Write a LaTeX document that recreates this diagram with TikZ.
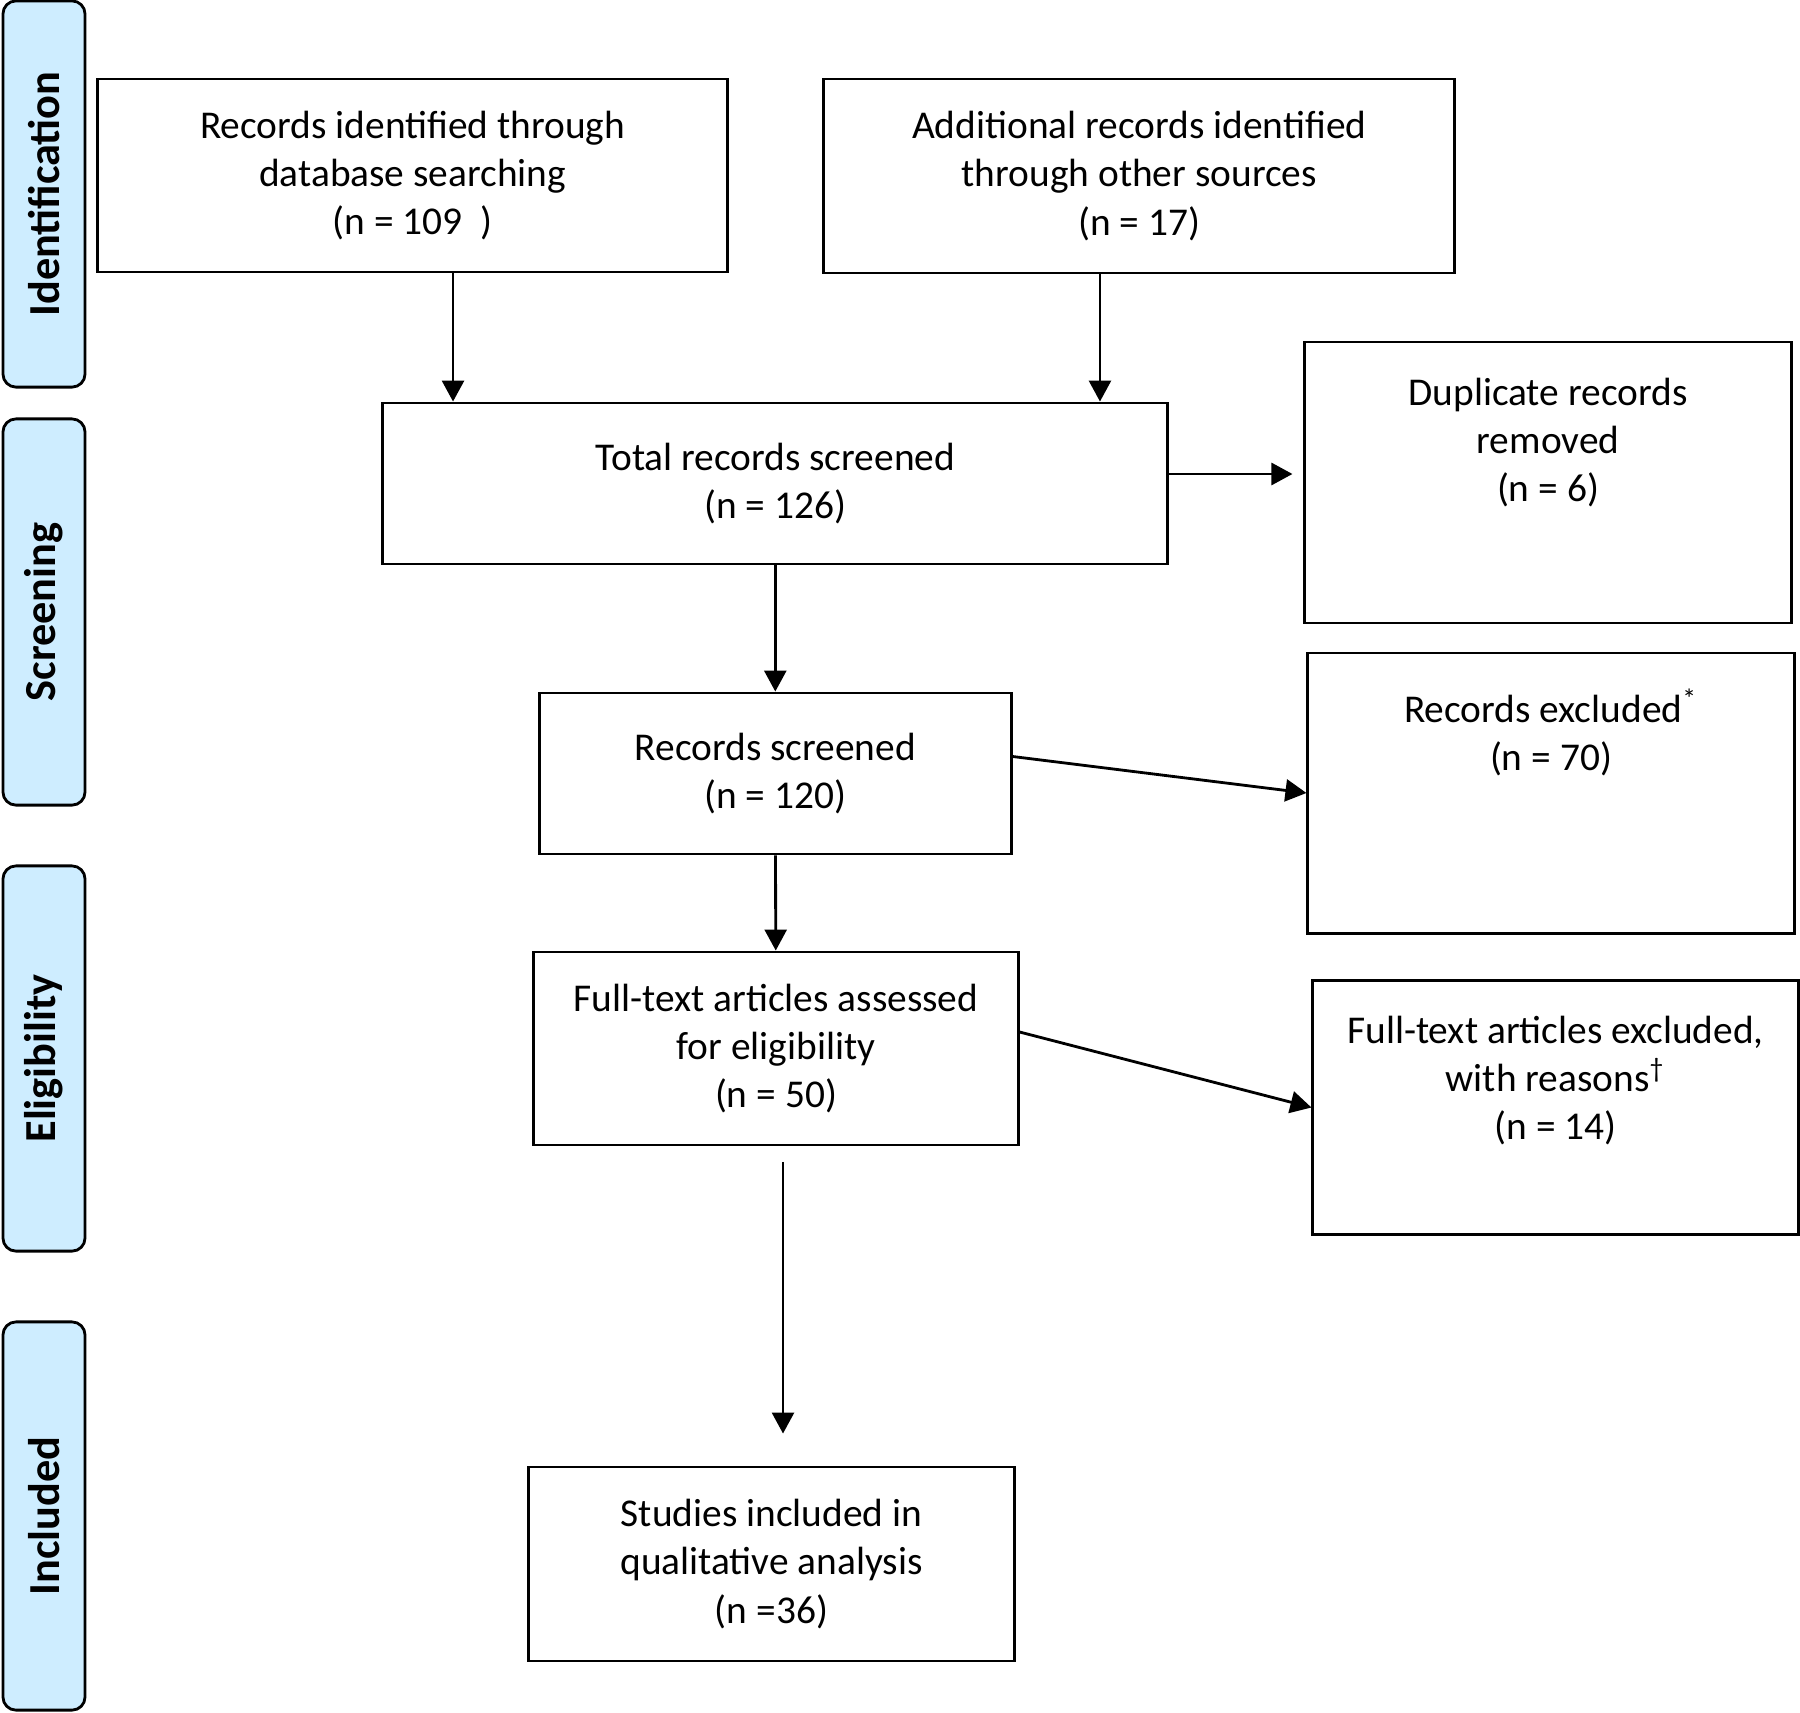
\documentclass[tikz,border=0pt]{standalone}
\usepackage{fontspec}
\setmainfont{Carlito}
\usetikzlibrary{arrows.meta}

\definecolor{stagefill}{RGB}{206,237,255}

\tikzset{
  box/.style={rectangle, draw, line width=0.8pt, inner sep=0pt, align=center,
    font=\fontsize{11.2}{13.7}\selectfont},
  toptext/.style={anchor=north, yshift=-0.24cm, align=center,
    font=\fontsize{11.2}{13.7}\selectfont},
  stage/.style={rectangle, draw, line width=0.8pt, rounded corners=0.13cm,
    fill=stagefill, minimum width=0.82cm, inner sep=0pt,
    font=\bfseries\fontsize{12.6}{15}\selectfont},
}

\begin{document}
\begin{tikzpicture}[x=0.01cm, y=-0.01cm, line width=0.8pt,
  >={Triangle[length=2.1mm, width=2.2mm]}]

\useasboundingbox (0,0) rectangle (1800,1712);

% stages on the left
\node (ident)[stage, minimum height=3.86cm] at (44, 194) {\rotatebox{90}{Identification}};
\node (screen)[stage, minimum height=3.86cm] at (44, 612) {\rotatebox{90}{Screening}};
\node (elig)[stage, minimum height=3.85cm] at (44, 1058.5) {\rotatebox{90}{Eligibility}};
\node (incl)[stage, minimum height=3.88cm] at (44, 1516) {\rotatebox{90}{Included}};

% main column
\node (rec1)[box, minimum width=6.30cm, minimum height=1.93cm] at (412.7, 175.5)
  {Records identified through\\database searching\\(n = 109\ \ )};
\node (rec2)[box, minimum width=6.305cm, minimum height=1.94cm] at (1139.3, 176)
  {Additional records identified\\through other sources\\(n = 17)};
\node (tot)[box, minimum width=7.845cm, minimum height=1.61cm] at (775.3, 483.5)
  {Total records screened\\(n = 126)};
\node (scr)[box, minimum width=4.715cm, minimum height=1.61cm] at (775.3, 773.5)
  {Records screened\\(n = 120)};
\node (ful)[box, minimum width=4.84cm, minimum height=1.93cm] at (776, 1048.5)
  {Full-text articles assessed\\for eligibility\\(n = 50)};
\node (inc)[box, minimum width=4.85cm, minimum height=1.94cm] at (771.5, 1564)
  {Studies included in\\qualitative analysis\\(n =36)};

% exclusions on the right
\node (dup)[box, minimum width=4.86cm, minimum height=2.81cm,
  label={[toptext]north:{Duplicate records\\removed\\(n = 6)}}] at (1548, 482.5) {};
\node (exc)[box, minimum width=4.86cm, minimum height=2.80cm,
  label={[toptext]north:{Records excluded\textsuperscript{*}\\(n = 70)}}] at (1551, 793) {};
\node (fex)[box, minimum width=4.85cm, minimum height=2.54cm,
  label={[toptext]north:{Full-text articles excluded,\\with reasons\textsuperscript{†}\\(n = 14)}}] at (1555.5, 1107.5) {};

\coordinate (c1) at ([xshift=0.403cm]rec1.south);
\coordinate (c2) at ([xshift=-0.393cm]rec2.south);
\coordinate (c3) at ([yshift=0.095cm]tot.east);
\coordinate (c4) at ([yshift=0.17cm]scr.east);
\coordinate (c5) at ([yshift=0.165cm]ful.east);
\coordinate (c6) at ([xshift=0.07cm, yshift=-0.155cm]ful.south);

\draw[->] (c1) -- (c1 |- tot.north);
\draw[->] (c2) -- (c2 |- tot.north);
\draw[->, shorten >=0.11cm] (c3) -- (c3 -| dup.west);
\draw[->] (tot) -- (scr);
\draw[->] (c4) -- (exc.west);
\draw[->] (scr) -- (ful);
\draw[->] (c5) -- (fex.west);
\draw[->, shorten >=0.32cm] (c6) -- (c6 |- inc.north);

\end{tikzpicture}
\end{document}
